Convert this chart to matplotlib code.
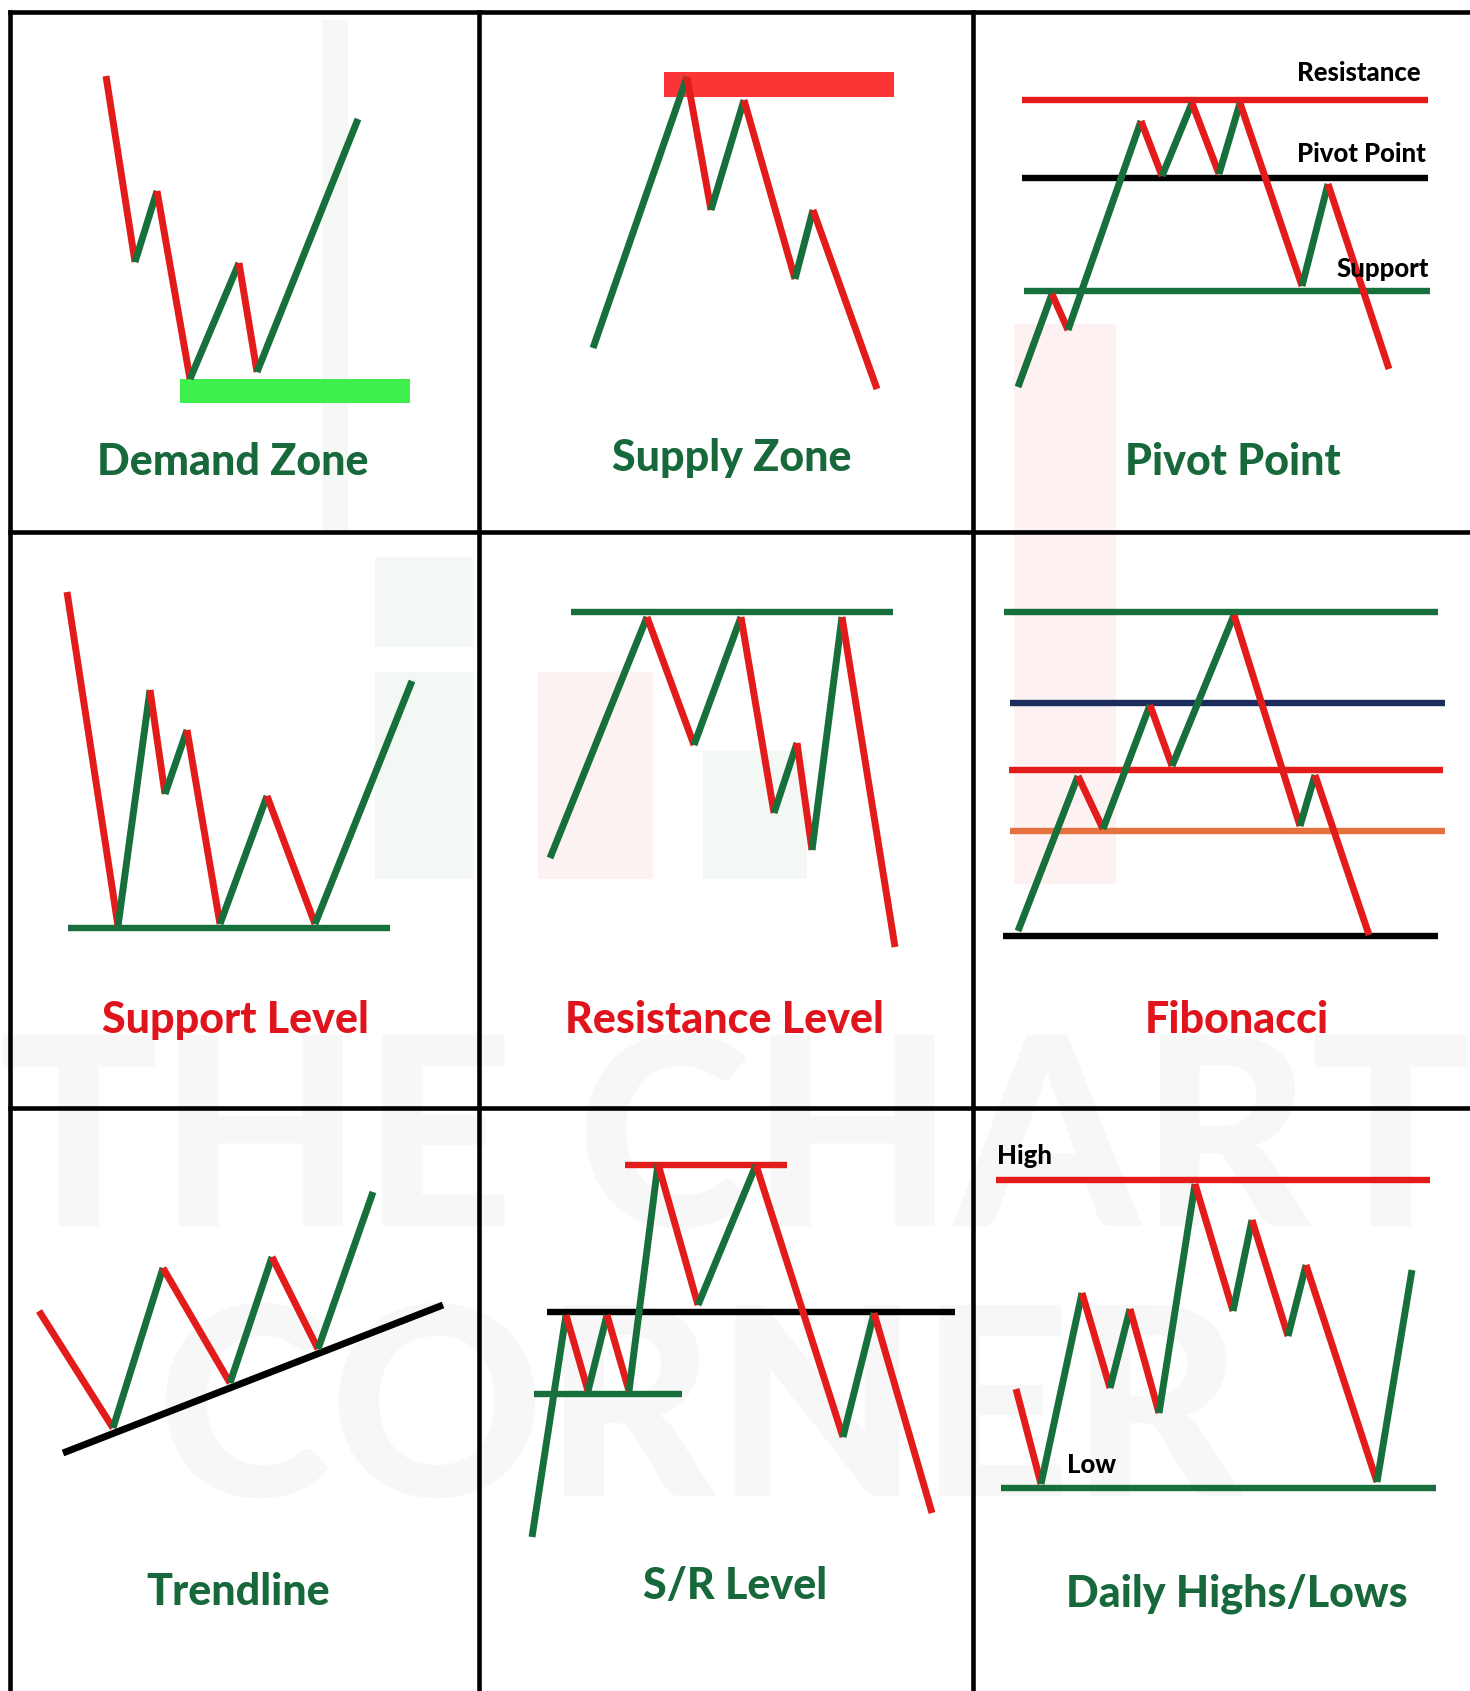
import matplotlib.pyplot as plt
from matplotlib.collections import LineCollection
from matplotlib.patches import Rectangle

# canvas size in pixels (drawing coords follow the picture, y grows downwards)
W, H = 1470, 1691

GREEN = "#17703c"
RED = "#e31b1b"
TITLE_GREEN = "#17683a"
TITLE_RED = "#e0141c"

# --- panel titles -------------------------------------------------------
titles = ["Demand Zone", "Supply Zone", "Pivot Point",
          "Support Level", "Resistance Level", "Fibonacci",
          "Trendline", "S/R Level", "Daily Highs/Lows"]
title_colors = [TITLE_GREEN, TITLE_GREEN, TITLE_GREEN,
                TITLE_RED, TITLE_RED, TITLE_RED,
                TITLE_GREEN, TITLE_GREEN, TITLE_GREEN]
title_x = [233, 732, 1233, 235, 724, 1237, 238, 735, 1237]
title_y = [462, 458, 462, 1020, 1020, 1020, 1592, 1586, 1594]

# --- price paths (zigzags) ----------------------------------------------
demand_x = [106, 135, 157, 190, 239, 257, 358]
demand_y = [76, 262, 191, 379, 263, 372, 119]

supply_x = [593, 687, 711, 744, 795, 813, 877]
supply_y = [348, 77, 210, 100, 279, 210, 389]

pivot_x = [1018, 1052, 1068, 1141, 1162, 1192, 1219, 1240, 1302, 1328, 1389]
pivot_y = [387, 294, 330, 121, 176, 103, 174, 103, 286, 184, 369]

support_x = [67, 118, 150, 165, 187, 220, 267, 315, 412]
support_y = [592, 926, 690, 794, 730, 924, 796, 924, 681]

resist_x = [550, 647, 694, 741, 774, 797, 812, 842, 895]
resist_y = [858, 617, 745, 617, 813, 743, 850, 617, 947]

fib_x = [1018, 1078, 1103, 1150, 1172, 1234, 1300, 1315, 1369]
fib_y = [931, 776, 829, 705, 766, 615, 826, 775, 935]

trend_x = [39, 113, 163, 230, 272, 318, 373]
trend_y = [1311, 1428, 1268, 1383, 1257, 1349, 1192]

sr_x = [532, 566, 588, 607, 629, 658, 698, 756, 843, 874, 932]
sr_y = [1537, 1315, 1391, 1315, 1391, 1164, 1305, 1165, 1437, 1313, 1513]

daily_x = [1016, 1041, 1082, 1110, 1130, 1159, 1195, 1233, 1252, 1288, 1306, 1377, 1412]
daily_y = [1389, 1484, 1293, 1388, 1309, 1413, 1184, 1311, 1220, 1336, 1265, 1482, 1270]

paths = [(demand_x, demand_y), (supply_x, supply_y), (pivot_x, pivot_y),
         (support_x, support_y), (resist_x, resist_y), (fib_x, fib_y),
         (trend_x, trend_y), (sr_x, sr_y), (daily_x, daily_y)]

# --- horizontal levels: (x start, x end, y, colour) ---------------------
levels = [
    (1022, 1428, 100, RED),        # pivot: resistance
    (1022, 1428, 178, "black"),    # pivot: pivot point
    (1024, 1430, 291, GREEN),      # pivot: support
    (68, 390, 928, GREEN),         # support level
    (571, 893, 612, GREEN),        # resistance level
    (1004, 1438, 612, GREEN),      # fibonacci 0
    (1010, 1445, 703, "#1c2d5c"),  # fibonacci 0.236
    (1009, 1443, 770, RED),        # fibonacci 0.382
    (1010, 1445, 831, "#e5713f"),  # fibonacci 0.5
    (1003, 1438, 936, "black"),    # fibonacci 1
    (625, 787, 1165, RED),         # s/r top
    (547, 955, 1312, "black"),     # s/r flip level
    (534, 682, 1394, GREEN),       # s/r bottom
    (996, 1430, 1180, RED),        # daily high
    (1001, 1436, 1488, GREEN),     # daily low
]

# trendline endpoints
trendline_x = [63, 443]
trendline_y = [1453, 1305]

# zones: (x0, x1, y top, y bottom, colour)
zones = [(180, 410, 379, 403, "#3df04d"),
         (664, 894, 72, 97, "#fb3535")]

# small black labels: (text, x, y, alignment)
labels = [("Resistance", 1421, 73, "right"),
          ("Pivot Point", 1426, 154, "right"),
          ("Support", 1429, 269, "right"),
          ("High", 997, 1156, "left"),
          ("Low", 1067, 1465, "left")]

# grid
vlines_x = [10, 479, 973]
hlines_y = [12, 532, 1108]

plt.rcParams["font.family"] = ["Lato", "DejaVu Sans"]

fig = plt.figure(figsize=(W / 100, H / 100), dpi=100)
ax = fig.add_axes([0, 0, 1, 1])
ax.set_xlim(0, W)
ax.set_ylim(H, 0)
ax.axis("off")

# faint watermark in the background
for (x0, y0, w, h, c) in [(1014, 324, 102, 560, "#fdf1f1"),
                          (538, 672, 115, 207, "#fdf2f2"),
                          (375, 557, 98, 90, "#f4f8f4"),
                          (375, 672, 98, 207, "#f4f8f4"),
                          (703, 751, 104, 128, "#f4f8f4"),
                          (322, 20, 26, 512, "#f5f8f5")]:
    ax.add_patch(Rectangle((x0, y0), w, h, color=c, zorder=0, lw=0))
ax.text(735, 1150, "THE CHART", fontsize=190, fontweight="black", color="#f7f7f7",
        ha="center", va="center", zorder=0)
ax.text(700, 1420, "CORNER", fontsize=190, fontweight="black", color="#f7f7f7",
        ha="center", va="center", zorder=0)

# grid lines
for x in vlines_x:
    ax.plot([x, x], [hlines_y[0], H], color="black", lw=3.3, zorder=5)
for y in hlines_y:
    ax.plot([vlines_x[0], W], [y, y], color="black", lw=3.3, zorder=5)

for (x0, x1, yt, yb, c) in zones:
    ax.add_patch(Rectangle((x0, yt), x1 - x0, yb - yt, color=c, lw=0, zorder=1))

for (x0, x1, y, c) in levels:
    ax.plot([x0, x1], [y, y], color=c, lw=4.6, solid_capstyle="butt", zorder=2)

ax.plot(trendline_x, trendline_y, color="black", lw=5, solid_capstyle="butt", zorder=2)

# zigzags: up moves green, down moves red
for xs, ys in paths:
    segs, cols = [], []
    for i in range(len(xs) - 1):
        segs.append([(xs[i], ys[i]), (xs[i + 1], ys[i + 1])])
        cols.append(GREEN if ys[i + 1] < ys[i] else RED)
    ax.add_collection(LineCollection(segs, colors=cols, linewidths=5,
                                     capstyle="butt", zorder=3))

for t, c, x, y in zip(titles, title_colors, title_x, title_y):
    ax.text(x, y, t, fontsize=31, fontweight="black", color=c,
            ha="center", va="center", zorder=4)

for t, x, y, ha in labels:
    ax.text(x, y, t, fontsize=18.5, fontweight="black", color="black",
            ha=ha, va="center", zorder=4)

fig.savefig("out.png", dpi=100)
